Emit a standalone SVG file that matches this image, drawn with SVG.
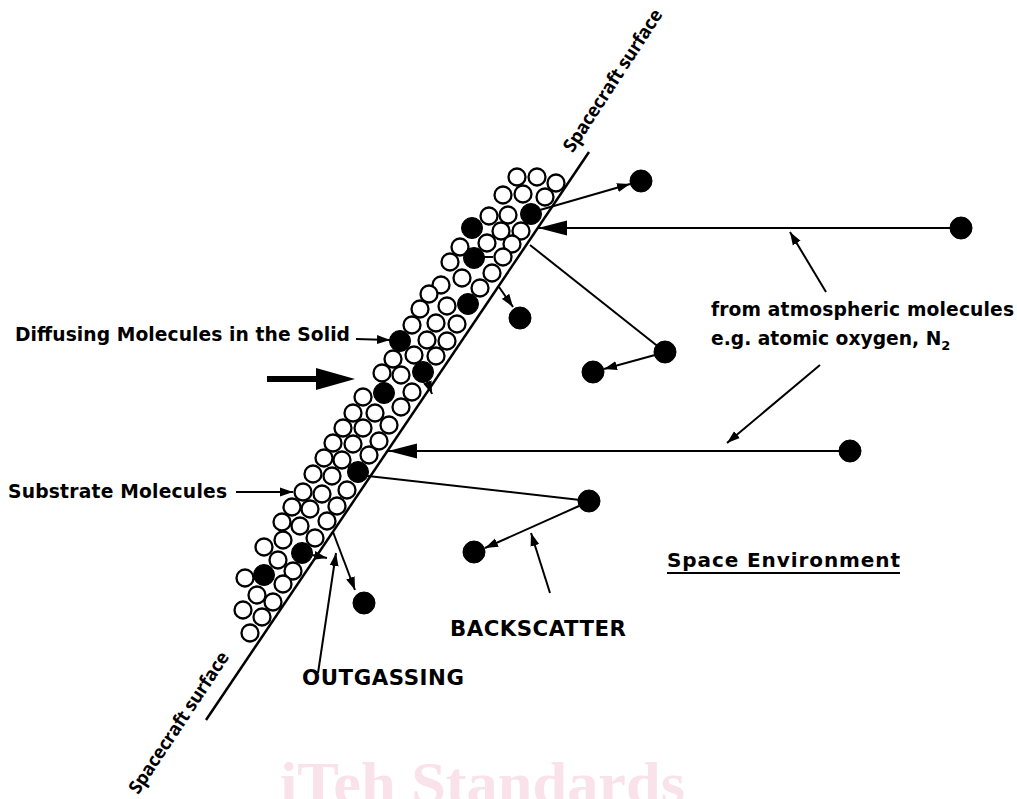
<svg xmlns="http://www.w3.org/2000/svg" width="1017" height="799" viewBox="0 0 1017 799">
  <style>
    .lbl { font-family: "DejaVu Sans", Verdana, sans-serif; font-weight: bold; font-size: 18.7px; fill: #000; }
    .caps { font-size: 21.3px; }
    .env { font-size: 20px; }
    .surf-lbl { font-family: "Open Sans", "DejaVu Sans", sans-serif; font-weight: 700; font-size: 18.5px; fill: #000; }
    .wm { font-family: "Liberation Serif", "Times New Roman", serif; font-weight: bold; font-size: 60px; fill: #f9e2ea; }
    .conn { stroke: #000; stroke-width: 2; fill: none; }
    .o { fill: #fff; stroke: #000; stroke-width: 2.3; }
    .f { fill: #000; stroke: #000; stroke-width: 1; }
  </style>
  <defs>
    <marker id="headBig" viewBox="0 -8 30 16" refX="29" refY="0" markerWidth="30" markerHeight="16" markerUnits="userSpaceOnUse" orient="auto">
      <path d="M0,-7.5 L29,0 L0,7.5 z" fill="#000"/>
    </marker>
    <marker id="headSmall" viewBox="0 -5 14 10" refX="13" refY="0" markerWidth="14" markerHeight="10" markerUnits="userSpaceOnUse" orient="auto">
      <path d="M0,-4.5 L13,0 L0,4.5 z" fill="#000"/>
    </marker>
  </defs>

  <rect width="1017" height="799" fill="#fff"/>

  <!-- watermark -->
  <text class="wm" x="280" y="803" textLength="405" lengthAdjust="spacingAndGlyphs">iTeh Standards</text>

  <!-- spacecraft surface line -->
  <g id="surface">
    <line x1="589" y1="152" x2="206" y2="720" stroke="#000" stroke-width="2.5"/>
  </g>

  <!-- connectors -->
  <g id="connectors">
    <line class="conn" x1="533" y1="212" x2="630" y2="184" marker-end="url(#headSmall)"/>
    <line class="conn" x1="950" y1="228" x2="538" y2="228" marker-end="url(#headBig)"/>
    <line class="conn" x1="530" y1="245" x2="665" y2="352"/>
    <line class="conn" x1="655" y1="355" x2="604" y2="369" marker-end="url(#headSmall)"/>
    <line class="conn" x1="499" y1="287" x2="513" y2="307" marker-end="url(#headSmall)"/>
    <line class="conn" x1="826" y1="292" x2="790" y2="232" marker-end="url(#headSmall)"/>
    <line class="conn" x1="820" y1="365" x2="727" y2="443" marker-end="url(#headSmall)"/>
    <line class="conn" x1="840" y1="451" x2="388" y2="451" marker-end="url(#headBig)"/>
    <line class="conn" x1="368" y1="476" x2="589" y2="501"/>
    <line class="conn" x1="579" y1="506" x2="485" y2="548" marker-end="url(#headSmall)"/>
    <line class="conn" x1="550" y1="593" x2="531" y2="533" marker-end="url(#headSmall)"/>
    <line class="conn" x1="333" y1="532" x2="355" y2="590" marker-end="url(#headSmall)"/>
    <line class="conn" x1="318" y1="673" x2="336" y2="553" marker-end="url(#headSmall)"/>
    <line class="conn" x1="356" y1="339" x2="390" y2="340" marker-end="url(#headSmall)"/>
    <line class="conn" x1="236" y1="492" x2="293" y2="492" marker-end="url(#headSmall)"/>
    <line class="conn" x1="312" y1="555" x2="327" y2="558" marker-end="url(#headSmall)"/>
    <line class="conn" x1="427" y1="381" x2="432" y2="394" marker-end="url(#headSmall)"/>
    <line class="conn" x1="484" y1="257" x2="493" y2="257"/>
    <!-- bold direction arrow -->
    <line x1="267" y1="379" x2="320" y2="379" stroke="#000" stroke-width="6"/>
    <polygon points="316,368 355,379 316,390" fill="#000"/>
  </g>

  <!-- substrate molecules (open) and diffusing molecules (filled) -->
  <g id="substrate">
    <circle class="o" cx="517" cy="177" r="8.5"/>
    <circle class="o" cx="537" cy="177" r="8.5"/>
    <circle class="o" cx="556" cy="183" r="8.5"/>
    <circle class="o" cx="503" cy="195" r="8.5"/>
    <circle class="o" cx="523" cy="194" r="8.5"/>
    <circle class="o" cx="545" cy="197" r="8.5"/>
    <circle class="o" cx="489" cy="216" r="8.5"/>
    <circle class="o" cx="508" cy="215" r="8.5"/>
    <circle class="o" cx="501" cy="231" r="8.5"/>
    <circle class="o" cx="521" cy="231" r="8.5"/>
    <circle class="o" cx="460" cy="247" r="8.5"/>
    <circle class="o" cx="487" cy="243" r="8.5"/>
    <circle class="o" cx="512" cy="244" r="8.5"/>
    <circle class="o" cx="450" cy="262" r="8.5"/>
    <circle class="o" cx="503" cy="257" r="8.5"/>
    <circle class="o" cx="462" cy="278" r="8.5"/>
    <circle class="o" cx="492" cy="273" r="8.5"/>
    <circle class="o" cx="441" cy="285" r="8.5"/>
    <circle class="o" cx="480" cy="288" r="8.5"/>
    <circle class="o" cx="429" cy="294" r="8.5"/>
    <circle class="o" cx="420" cy="309" r="8.5"/>
    <circle class="o" cx="447" cy="306" r="8.5"/>
    <circle class="o" cx="412" cy="325" r="8.5"/>
    <circle class="o" cx="436" cy="323" r="8.5"/>
    <circle class="o" cx="457" cy="324" r="8.5"/>
    <circle class="o" cx="427" cy="340" r="8.5"/>
    <circle class="o" cx="447" cy="341" r="8.5"/>
    <circle class="o" cx="393" cy="359" r="8.5"/>
    <circle class="o" cx="414" cy="355" r="8.5"/>
    <circle class="o" cx="436" cy="356" r="8.5"/>
    <circle class="o" cx="382" cy="373" r="8.5"/>
    <circle class="o" cx="401" cy="375" r="8.5"/>
    <circle class="o" cx="412" cy="392" r="8.5"/>
    <circle class="o" cx="363" cy="397" r="8.5"/>
    <circle class="o" cx="353" cy="413" r="8.5"/>
    <circle class="o" cx="375" cy="413" r="8.5"/>
    <circle class="o" cx="401" cy="407" r="8.5"/>
    <circle class="o" cx="343" cy="428" r="8.5"/>
    <circle class="o" cx="363" cy="428" r="8.5"/>
    <circle class="o" cx="389" cy="425" r="8.5"/>
    <circle class="o" cx="333" cy="443" r="8.5"/>
    <circle class="o" cx="353" cy="444" r="8.5"/>
    <circle class="o" cx="379" cy="441" r="8.5"/>
    <circle class="o" cx="324" cy="458" r="8.5"/>
    <circle class="o" cx="342" cy="460" r="8.5"/>
    <circle class="o" cx="369" cy="455" r="8.5"/>
    <circle class="o" cx="313" cy="474" r="8.5"/>
    <circle class="o" cx="332" cy="476" r="8.5"/>
    <circle class="o" cx="303" cy="492" r="8.5"/>
    <circle class="o" cx="322" cy="494" r="8.5"/>
    <circle class="o" cx="347" cy="490" r="8.5"/>
    <circle class="o" cx="292" cy="507" r="8.5"/>
    <circle class="o" cx="310" cy="509" r="8.5"/>
    <circle class="o" cx="337" cy="506" r="8.5"/>
    <circle class="o" cx="282" cy="522" r="8.5"/>
    <circle class="o" cx="300" cy="526" r="8.5"/>
    <circle class="o" cx="327" cy="521" r="8.5"/>
    <circle class="o" cx="283" cy="540" r="8.5"/>
    <circle class="o" cx="315" cy="538" r="8.5"/>
    <circle class="o" cx="264" cy="547" r="8.5"/>
    <circle class="o" cx="278" cy="560" r="8.5"/>
    <circle class="o" cx="293" cy="571" r="8.5"/>
    <circle class="o" cx="245" cy="578" r="8.5"/>
    <circle class="o" cx="283" cy="584" r="8.5"/>
    <circle class="o" cx="257" cy="595" r="8.5"/>
    <circle class="o" cx="273" cy="602" r="8.5"/>
    <circle class="o" cx="243" cy="610" r="8.5"/>
    <circle class="o" cx="262" cy="617" r="8.5"/>
    <circle class="o" cx="250" cy="633" r="8.5"/>

    <circle class="f" cx="531" cy="214" r="10.5"/>
    <circle class="f" cx="472" cy="228" r="10.5"/>
    <circle class="f" cx="474" cy="258" r="10.5"/>
    <circle class="f" cx="468" cy="304" r="10.5"/>
    <circle class="f" cx="400" cy="341" r="10.5"/>
    <circle class="f" cx="423" cy="372" r="10.5"/>
    <circle class="f" cx="384" cy="393" r="10.5"/>
    <circle class="f" cx="358" cy="472" r="10.5"/>
    <circle class="f" cx="302" cy="553" r="10.5"/>
    <circle class="f" cx="264" cy="575" r="10.5"/>
  </g>

  <!-- free molecules in space -->
  <g id="mol-reflected-top"><circle class="f" cx="641" cy="181" r="11"/></g>
  <g id="mol-incoming-top"><circle class="f" cx="961" cy="228" r="11"/></g>
  <g id="mol-outgassed-top"><circle class="f" cx="520" cy="318" r="11"/></g>
  <g id="mol-bounce-top"><circle class="f" cx="665" cy="352" r="11"/></g>
  <g id="mol-backscatter-top"><circle class="f" cx="593" cy="372" r="11"/></g>
  <g id="mol-incoming-bottom"><circle class="f" cx="850" cy="451" r="11"/></g>
  <g id="mol-bounce-bottom"><circle class="f" cx="589" cy="501" r="11"/></g>
  <g id="mol-backscatter-bottom"><circle class="f" cx="474" cy="552" r="11"/></g>
  <g id="mol-outgassed-bottom"><circle class="f" cx="364" cy="603" r="11"/></g>

  <!-- labels -->
  <g id="label-surface-top">
    <text class="surf-lbl" transform="translate(618,84) rotate(-57)" text-anchor="middle" textLength="166">Spacecraft surface</text>
  </g>
  <g id="label-surface-bottom">
    <text class="surf-lbl" transform="translate(184,726) rotate(-56.5)" text-anchor="middle" textLength="166">Spacecraft surface</text>
  </g>
  <g id="label-diffusing">
    <text class="lbl" x="15" y="341" textLength="335">Diffusing Molecules in the Solid</text>
  </g>
  <g id="label-substrate">
    <text class="lbl" x="8" y="498" textLength="219">Substrate Molecules</text>
  </g>
  <g id="label-atmospheric">
    <text class="lbl" x="711" y="316" textLength="303">from atmospheric molecules</text>
    <text class="lbl" x="711" y="345">e.g. atomic oxygen, N<tspan font-size="13" dy="5">2</tspan></text>
  </g>
  <g id="label-space">
    <text class="lbl env" x="667" y="567" textLength="233">Space Environment</text>
    <line x1="667" y1="573" x2="900" y2="573" stroke="#000" stroke-width="2"/>
  </g>
  <g id="label-backscatter">
    <text class="lbl caps" x="450" y="636" textLength="176">BACKSCATTER</text>
  </g>
  <g id="label-outgassing">
    <text class="lbl caps" x="302" y="685" textLength="162">OUTGASSING</text>
  </g>
</svg>
